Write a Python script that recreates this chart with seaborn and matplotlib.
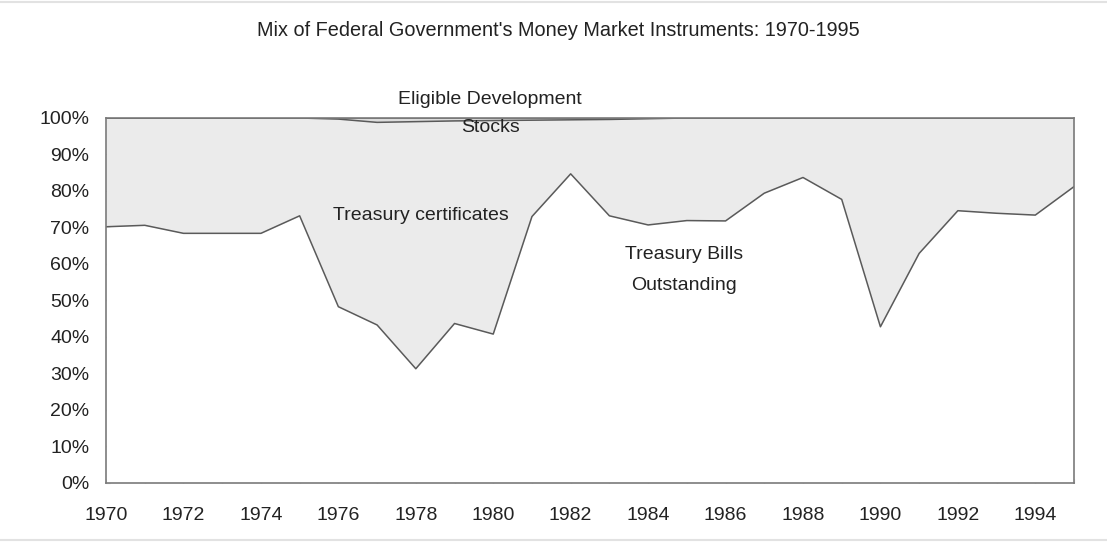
import numpy as np
import pandas as pd
import matplotlib
matplotlib.use("Agg")
import matplotlib.pyplot as plt
import seaborn as sns
from matplotlib.ticker import FuncFormatter, MultipleLocator
from matplotlib.lines import Line2D

years = list(range(1970, 1996))
bills = [70.2, 70.6, 68.4, 68.4, 68.4, 73.2, 48.3, 43.3, 31.3, 43.7, 40.8, 73.0, 84.7,
         73.2, 70.7, 71.9, 71.8, 79.4, 83.7, 77.7, 42.8, 62.9, 74.6, 73.9, 73.4, 81.2]
eds = [0, 0, 0, 0, 0, 0, 0.3, 1.2, 1.0, 0.8, 0.7, 0.6, 0.5,
       0.4, 0.2, 0, 0, 0, 0, 0, 0, 0, 0, 0, 0, 0]
certificates = [round(100 - b - e, 2) for b, e in zip(bills, eds)]

title = "Mix of Federal Government's Money Market Instruments: 1970-1995"
label_eds = ["Eligible Development", "Stocks"]
label_cert = ["Treasury certificates"]
label_bills = ["Treasury Bills", "Outstanding"]

df = pd.DataFrame({"year": years, "bills": bills, "cert": certificates, "eds": eds})
df["c1"] = df["bills"]
df["c2"] = df["bills"] + df["cert"]
df["c3"] = df["c2"] + df["eds"]

sns.set_theme(style="white")
plt.rcParams["font.family"] = ["Liberation Sans", "DejaVu Sans"]

fig = plt.figure(figsize=(11.07, 5.43), dpi=100)
ax = fig.add_axes([0.0958, 0.1105, 0.9702 - 0.0958, 0.7827 - 0.1105])

line_col = "#5a5a5a"
ax.fill_between(df["year"], 0, df["c1"], color="white", lw=0)
ax.fill_between(df["year"], df["c1"], df["c2"], color="#ebebeb", lw=0)
ax.fill_between(df["year"], df["c2"], df["c3"], color="#dcdcdc", lw=0)
for col in ["c1", "c2", "c3"]:
    sns.lineplot(data=df, x="year", y=col, ax=ax, color=line_col, lw=1.1)

ax.set_xlim(1970, 1995)
ax.set_ylim(0, 100)
ax.set_xlabel("")
ax.set_ylabel("")
ax.xaxis.set_major_locator(MultipleLocator(2))
ax.xaxis.set_minor_locator(MultipleLocator(1))
ax.yaxis.set_major_locator(MultipleLocator(10))
ax.yaxis.set_major_formatter(FuncFormatter(lambda v, p: f"{int(round(v))}%"))
ax.tick_params(axis="both", which="both", direction="in", length=3, width=0.8,
               color="#aaaaaa", labelsize=14, labelcolor="#222222")
ax.tick_params(axis="x", which="both", bottom=True, pad=17)
ax.tick_params(axis="y", which="both", left=True, pad=12)
for s in ax.spines.values():
    s.set_visible(True)
    s.set_color("#7a7a7a")
    s.set_linewidth(1.2)

def multiline(x, ys, lines):
    for y, t in zip(ys, lines):
        ax.text(x, y, t, ha="center", va="center", fontsize=14, color="#222222",
                clip_on=False)

multiline(1979.92, [105.2, 97.3], label_eds)
multiline(1978.14, [73.4], label_cert)
multiline(1984.92, [62.6, 54.2], label_bills)

fig.text(558 / 1107, 1 - 30 / 543, title, ha="center", va="center", fontsize=14.3,
         color="#222222")

fig.add_artist(Line2D([0, 1], [1 - 2 / 543, 1 - 2 / 543], transform=fig.transFigure,
                      color="#e2e2e2", lw=1.5))
fig.add_artist(Line2D([0, 1], [3 / 543, 3 / 543], transform=fig.transFigure,
                      color="#e2e2e2", lw=1.5))

fig.savefig("out.png", dpi=100)
